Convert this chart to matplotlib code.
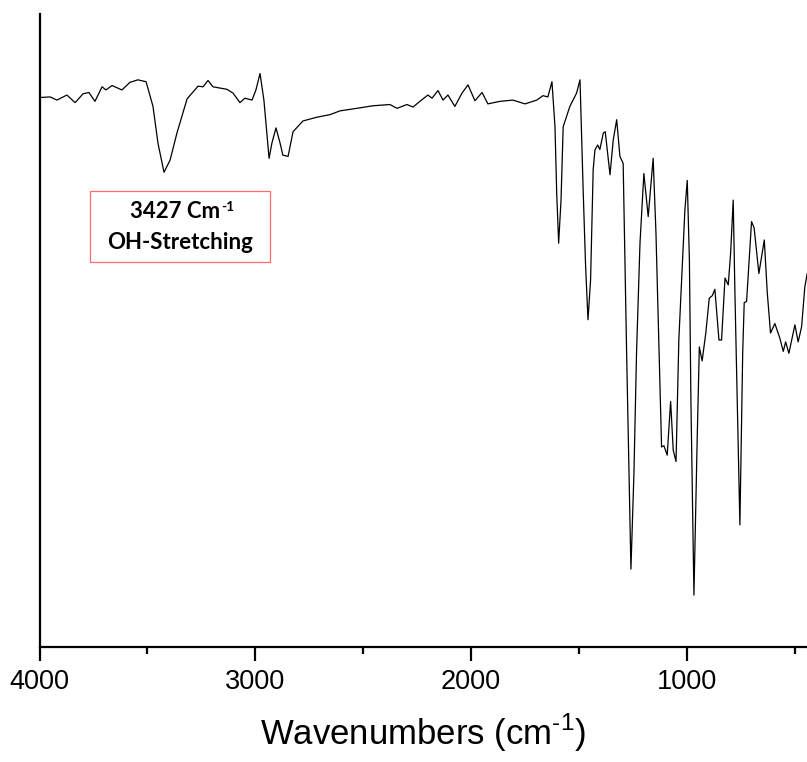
"""FTIR spectrum with OH-stretching annotation."""
import matplotlib
matplotlib.use("Agg")
import matplotlib.pyplot as plt
from matplotlib.patches import Rectangle

# spectrum (wavenumber in cm-1, relative transmittance)
wavenumber = [
    4000, 3951, 3919, 3873, 3835, 3798, 3771, 3743, 3710, 3692, 3664, 3618,
    3581, 3544, 3506, 3474, 3451, 3423, 3395, 3363, 3316, 3265, 3242, 3219,
    3196, 3131, 3103, 3071, 3048, 3015, 2997, 2978, 2960, 2936, 2923, 2904,
    2885, 2872, 2848, 2825, 2779, 2714, 2654, 2607, 2529, 2455, 2376, 2343,
    2297, 2269, 2237, 2200, 2181, 2153, 2130, 2107, 2075, 2042, 2014, 1982,
    1949, 1922, 1866, 1806, 1750, 1695, 1667, 1644, 1625, 1611, 1603, 1594,
    1583, 1573, 1542, 1511, 1495, 1480, 1469, 1458, 1446, 1434, 1426, 1413,
    1403, 1387, 1378, 1356, 1341, 1325, 1310, 1295, 1279, 1259, 1245, 1233,
    1217, 1199, 1179, 1156, 1143, 1117, 1106, 1091, 1075, 1063, 1050, 1037,
    1021, 1009, 998, 988, 981, 967, 952, 942, 929, 912, 896, 882,
    870, 851, 839, 823, 808, 797, 785, 777, 754, 741, 734, 723,
    700, 688, 666, 641, 627, 612, 592, 569, 553, 542, 527, 499,
    484, 468, 453, 442,
]
transmittance = [
    86.8, 86.9, 86.4, 87.2, 86.0, 87.4, 87.6, 86.2, 88.5, 88.0, 88.7, 88.0,
    89.2, 89.6, 89.3, 85.4, 79.6, 75.0, 76.9, 81.2, 86.6, 88.6, 88.5, 89.5,
    88.5, 88.1, 87.5, 86.0, 86.7, 86.4, 88.0, 90.6, 86.4, 77.2, 79.6, 82.0,
    79.6, 77.7, 77.5, 81.4, 83.1, 83.7, 84.1, 84.7, 85.1, 85.5, 85.7, 85.1,
    85.7, 85.3, 86.2, 87.2, 86.7, 87.9, 86.4, 87.2, 85.4, 87.5, 88.8, 86.3,
    87.6, 85.8, 86.2, 86.4, 85.8, 86.4, 87.1, 86.9, 89.3, 82.2, 71.7, 63.8,
    70.6, 82.2, 85.4, 87.5, 89.6, 71.7, 60.1, 51.7, 58.0, 75.4, 78.5, 79.3,
    78.6, 81.2, 81.4, 74.6, 80.1, 83.3, 77.5, 76.4, 46.5, 12.3, 27.5, 46.5,
    63.8, 74.8, 68.0, 77.2, 65.4, 31.6, 31.8, 30.3, 38.8, 31.1, 29.3, 48.5,
    60.1, 69.0, 73.7, 61.1, 39.0, 8.2, 32.7, 47.4, 45.2, 49.6, 55.1, 55.5,
    56.5, 48.5, 48.5, 58.3, 57.2, 62.2, 70.6, 55.9, 19.3, 46.5, 54.4, 54.6,
    67.2, 66.2, 59.0, 64.3, 55.9, 49.6, 51.1, 48.8, 46.7, 48.2, 46.4, 50.9,
    48.2, 50.6, 56.9, 59.0,
]
major_ticks = [4000, 3000, 2000, 1000]
minor_ticks = [3500, 2500, 1500, 500]
note_lines = ["3427 Cm", "OH-Stretching"]

plt.rcParams["font.family"] = "Liberation Sans"
plt.rcParams["mathtext.fontset"] = "custom"
plt.rcParams["mathtext.rm"] = "Liberation Sans"

W, H = 807, 762
fig = plt.figure(figsize=(W / 100, H / 100), dpi=100)
fig.patch.set_facecolor("white")
ax = fig.add_axes([39.5 / W, (H - 647) / H, 1 - 39.5 / W, (647 - 14) / H])

ax.plot(wavenumber, transmittance, color="black", lw=0.9)
ax.set_xlim(4000, 443)
ax.set_ylim(0, 100)

for s in ("top", "right"):
    ax.spines[s].set_visible(False)
for s in ("left", "bottom"):
    ax.spines[s].set_linewidth(1.6)

ax.set_yticks([])
ax.set_xticks(major_ticks)
ax.set_xticks(minor_ticks, minor=True)
ax.tick_params(axis="x", which="major", direction="out", length=9.8,
               width=1.6, labelsize=19.5, pad=6)
ax.tick_params(axis="x", which="minor", direction="out", length=5,
               width=1.6)
ax.set_xlabel(r"Wavenumbers (cm$^{\text{-1}}$)", fontsize=25, labelpad=12)

# annotation box (figure pixel coords from the reference)
fig.add_artist(Rectangle((90 / W, (H - 261.7) / H), 180 / W, 71 / H,
                         transform=fig.transFigure, fill=False,
                         ec="#ff6b6b", lw=0.9))
t1 = fig.text(175 / W, (H - 211.5) / H, note_lines[0], family="Lato",
              weight="bold", fontsize=16, ha="center", va="center")
ax.annotate("-1", xy=(1.0, 1.0), xycoords=t1, xytext=(1, 0),
            textcoords="offset points", family="Lato", weight="bold",
            fontsize=10, ha="left", va="top")
fig.text(180 / W, (H - 242.5) / H, note_lines[1], family="Lato",
         weight="bold", fontsize=16, ha="center", va="center")

fig.savefig("out.png", dpi=100, facecolor="white")
